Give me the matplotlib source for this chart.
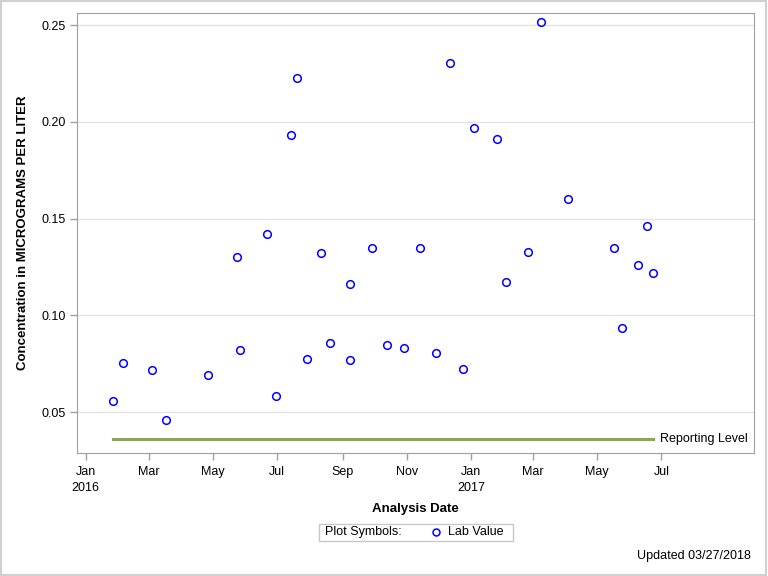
import matplotlib
matplotlib.use("Agg")
import matplotlib.pyplot as plt
import matplotlib.dates as mdates
from matplotlib.patches import Rectangle
import pandas as pd

plt.rcParams["font.family"] = ["Liberation Sans", "DejaVu Sans"]

# lab results
dates = [
    "2016-01-27", "2016-02-05", "2016-03-04", "2016-03-17", "2016-04-26",
    "2016-05-24", "2016-05-27", "2016-06-21", "2016-06-30", "2016-07-14",
    "2016-07-20", "2016-07-29", "2016-08-12", "2016-08-20", "2016-09-08",
    "2016-09-08", "2016-09-29", "2016-10-13", "2016-10-29", "2016-11-14",
    "2016-11-29", "2016-12-12", "2016-12-24", "2017-01-04", "2017-01-26",
    "2017-02-03", "2017-02-24", "2017-03-09", "2017-04-03", "2017-05-17",
    "2017-05-25", "2017-06-09", "2017-06-17", "2017-06-23",
]
values = [
    0.0557, 0.0753, 0.0717, 0.0459, 0.0691,
    0.130, 0.082, 0.1419, 0.0583, 0.193,
    0.2229, 0.0773, 0.132, 0.0856, 0.116,
    0.0768, 0.1347, 0.0846, 0.083, 0.1347,
    0.0805, 0.2306, 0.0722, 0.197, 0.1909,
    0.117, 0.133, 0.2518, 0.160, 0.1347,
    0.0934, 0.1259, 0.146, 0.1217,
]
reporting_level = 0.0362

dates = pd.to_datetime(dates)

fig = plt.figure(figsize=(7.68, 5.76), dpi=100)
ax = fig.add_axes([0.1007, 0.2135, 0.8811, 0.7635])

ax.plot(dates, values, linestyle="none", marker="o", markersize=5.5,
        markerfacecolor="none", markeredgecolor="#0000ff", markeredgewidth=1.1,
        zorder=3)
ax.plot([dates[0], dates[-1]], [reporting_level, reporting_level],
        color="#8aa652", linewidth=2.2, zorder=2)
ax.text(dates[-1] + pd.Timedelta(days=7), reporting_level, "Reporting Level",
        va="center", ha="left", fontsize=9)

ax.set_xlim(pd.Timestamp("2015-12-24"), pd.Timestamp("2017-09-27"))
ax.set_ylim(0.0289, 0.2561)
ax.set_yticks([0.05, 0.10, 0.15, 0.20, 0.25])
ax.yaxis.set_major_formatter(plt.FuncFormatter(lambda v, p: f"{v:.2f}"))

ticks = pd.to_datetime(["2016-01-01", "2016-03-01", "2016-05-01", "2016-07-01",
                        "2016-09-01", "2016-11-01", "2017-01-01", "2017-03-01",
                        "2017-05-01", "2017-07-01"])
labels = ["Jan\n2016", "Mar", "May", "Jul", "Sep", "Nov", "Jan\n2017", "Mar",
          "May", "Jul"]
ax.set_xticks(ticks)
ax.set_xticklabels(labels, linespacing=1.55)

ax.grid(axis="y", color="#e4e4e4", linewidth=1)
ax.set_axisbelow(True)
for s in ax.spines.values():
    s.set_color("#a0a0a0")
ax.tick_params(axis="both", colors="#a0a0a0", labelcolor="black", labelsize=9,
               length=5, width=1, direction="out")
ax.tick_params(axis="x", pad=4)

ax.set_ylabel("Concentration in MICROGRAMS PER LITER", fontsize=9.5,
              fontweight="bold", labelpad=9)
ax.set_xlabel("Analysis Date", fontsize=9.5, fontweight="bold", labelpad=6)

# legend box
fig.patches.append(Rectangle((319 / 768, 1 - 541 / 576), 194 / 768, 17 / 576,
                             transform=fig.transFigure, fill=False,
                             edgecolor="#c8c8c8", linewidth=1))
fig.text(325 / 768, 1 - 532 / 576, "Plot Symbols:", fontsize=9, va="center")
fig.lines.append(plt.Line2D([436 / 768], [1 - 532 / 576], marker="o",
                            markersize=5, markerfacecolor="none",
                            markeredgecolor="#0000ff", markeredgewidth=1.1,
                            transform=fig.transFigure))
fig.text(448 / 768, 1 - 532 / 576, "Lab Value", fontsize=9, va="center")

fig.text(751 / 768, 1 - 556 / 576, "Updated 03/27/2018", fontsize=9,
         ha="right", va="center")

# outer frame
fig.patches.append(Rectangle((0.001, 0.001), 0.997, 0.997,
                             transform=fig.transFigure, fill=False,
                             edgecolor="#d0d0d0", linewidth=1.5))

fig.savefig("out.png", dpi=100)
